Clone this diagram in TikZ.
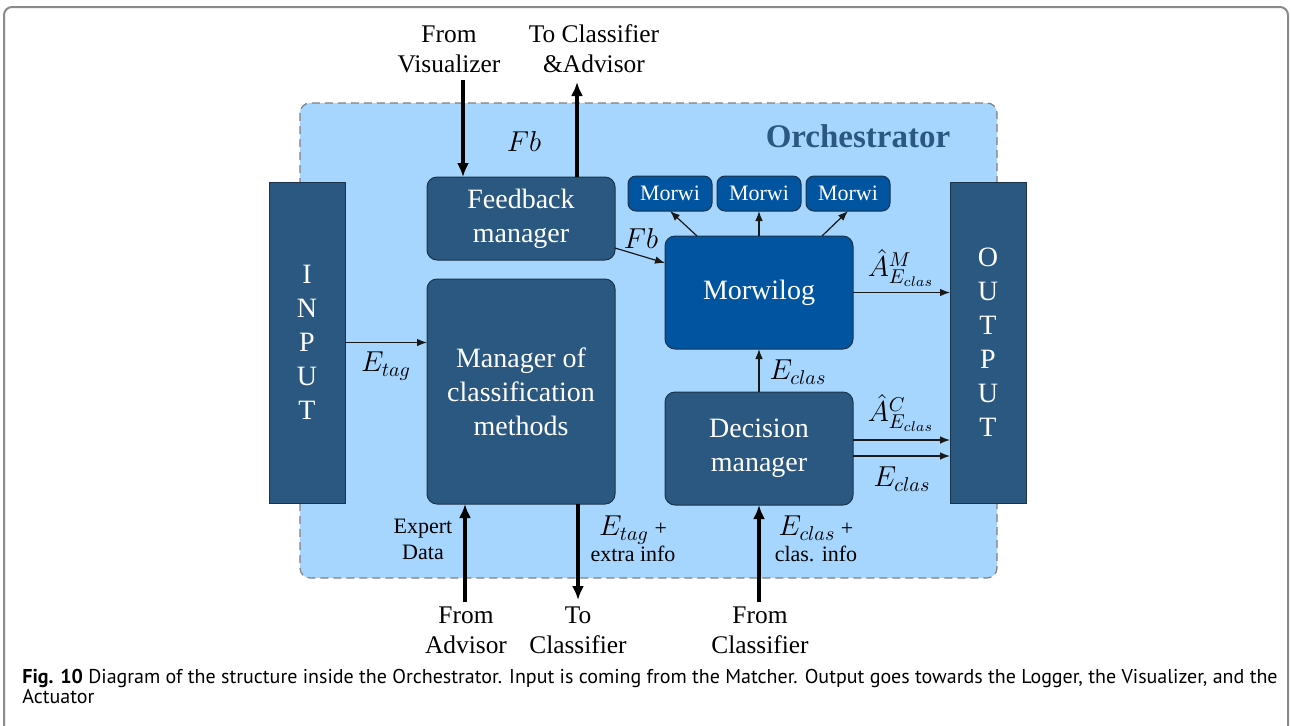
\documentclass[tikz,border=0pt]{standalone}
\usepackage{fontspec}
\setmainfont{Liberation Serif}
\newfontfamily\capfont{PT Sans}
\usetikzlibrary{arrows.meta,calc}
\definecolor{boxblue}{HTML}{2B5880}
\definecolor{morblue}{HTML}{0054A0}
\definecolor{bgblue}{HTML}{A6D5FD}
\definecolor{boxedge}{HTML}{1C3349}
\definecolor{framegray}{HTML}{8A8A8A}
\newcommand{\bigmath}[1]{{\fontsize{14}{13}\selectfont$#1$}}
\begin{document}
\begin{tikzpicture}[x=0.5pt,y=-0.5pt,
  box/.style={draw=boxedge, fill=boxblue, text=white, rounded corners=5pt, line width=0.5pt,
    align=center, font=\fontsize{14}{17}\selectfont, inner sep=0pt, outer sep=0pt},
  iobox/.style={draw=boxedge, fill=boxblue, text=white, line width=0.5pt, align=center,
    font=\fontsize{14}{17}\selectfont, inner sep=0pt, outer sep=0pt,
    minimum width=38pt, minimum height=160.5pt},
  morwi/.style={box, fill=morblue, rounded corners=4pt, minimum width=42pt, minimum height=17.5pt,
    font=\fontsize{11}{13}\selectfont},
  lbl/.style={align=center, font=\fontsize{12.7}{15}\selectfont, inner sep=0pt},
  slbl/.style={align=center, font=\fontsize{11}{13}\selectfont, inner sep=0pt},
  mlbl/.style={font=\fontsize{14}{15}\selectfont, inner sep=0pt},
  thinarrow/.style={-{Latex[length=5pt,width=3.8pt]}, line width=0.6pt, draw=black!90},
  bigarrow/.style={-{Latex[length=7pt,width=6pt]}, line width=2pt, draw=black}]
\useasboundingbox (0,0) rectangle (1291,725);
% outer frame
\draw[framegray, line width=1pt, rounded corners=4pt] (4,740) -- (4,7) -- (1288,7) -- (1288,740);
% orchestrator background
\draw[fill=bgblue, draw=black!50, dash pattern=on 4pt off 2.5pt, line width=0.6pt, rounded corners=5pt]
  (300,103) rectangle (997,578);
\node[font=\fontsize{16.5}{19}\selectfont\bfseries, text=boxblue, inner sep=0pt] (orch) at (858,136) {Orchestrator};
% boxes
\node[iobox] (inp) at (307,342.5) {I\\N\\P\\U\\T};
\node[iobox] (out) at (988,342.5) {O\\U\\T\\P\\U\\T};
\node[box, minimum width=94pt, minimum height=41.5pt] (fb) at (521,218.5) {Feedback\\manager};
\node[box, minimum width=94pt, minimum height=112.5pt] (mgr) at (521,391.5) {Manager of\\classification\\methods};
\node[box, fill=morblue, minimum width=94pt, minimum height=56.5pt] (mw) at (759,292.5) {Morwilog};
\node[box, minimum width=94pt, minimum height=56.5pt] (dec) at (759,448.5) {Decision\\manager};
\node[morwi] (m1) at (670,193.5) {Morwi};
\node[morwi] (m2) at (759,193.5) {Morwi};
\node[morwi] (m3) at (848,193.5) {Morwi};
% helper points
\coordinate (fbout) at ($(fb.south east)+(0,-12)$);
\coordinate (mwin) at ($(mw.north west)+(0,27)$);
\coordinate (mwl) at ($(mw.north)+(-62,0)$);
\coordinate (mwr) at ($(mw.north)+(63,0)$);
\coordinate (dec1) at ($(dec.east)+(0,-8.5)$);
\coordinate (dec2) at ($(dec.east)+(0,7.5)$);
% thin connectors
\draw[thinarrow] (inp.east) -- (inp.east -| mgr.west);
\draw[thinarrow] (fbout) -- (mwin);
\draw[thinarrow] (mwl) -- (m1.south);
\draw[thinarrow] (mw.north) -- (m2.south);
\draw[thinarrow] (mwr) -- (m3.south);
\draw[thinarrow] (mw.east) -- (mw.east -| out.west);
\draw[thinarrow] (dec1) -- (dec1 -| out.west);
\draw[thinarrow] (dec2) -- (dec2 -| out.west);
\draw[thinarrow] (dec.north) -- (mw.south);
% thick connectors
\coordinate (fromvis) at (463,80);
\coordinate (tocla) at (577,82);
\coordinate (fromadv) at (465,602);
\coordinate (tocls) at (578,600);
\coordinate (fromcls) at (759,602);
\draw[bigarrow] (fromvis) -- (fromvis |- fb.north);
\draw[bigarrow] (tocla |- fb.north) -- (tocla);
\draw[bigarrow] (fromadv) -- (fromadv |- mgr.south);
\draw[bigarrow] (tocls |- mgr.south) -- (tocls);
\draw[bigarrow] (fromcls) -- (dec.south);
% labels
\node[lbl] (lfromvis) at (449,49) {From\\Visualizer};
\node[lbl] (ltocla) at (594,49) {To Classifier\\\&Advisor};
\node[lbl] (lfromadv) at (466,630) {From\\Advisor};
\node[lbl] (ltocls) at (578,630) {To\\Classifier};
\node[lbl] (lfromcls) at (760,630) {From\\Classifier};
\node[slbl] (lexp) at (423,539) {Expert\\Data};
\node[slbl] (lextra) at (633,539) {\bigmath{E_{tag}} +\\extra info};
\node[slbl] (lclas) at (816,539) {\bigmath{E_{clas}} +\\clas. info};
\node[mlbl] (lfb1) at (524,141) {$Fb$};
\node[mlbl] (lfb2) at (641,238) {$Fb$};
\node[mlbl] (letag) at (386,366) {$E_{tag}$};
\node[mlbl] (lam) at (901,268) {$\hat{A}^{M}_{E_{clas}}$};
\node[mlbl] (lac) at (901,413) {$\hat{A}^{C}_{E_{clas}}$};
\node[mlbl] (lec1) at (902,479) {$E_{clas}$};
\node[mlbl] (lec2) at (798,372) {$E_{clas}$};
% caption
\node[anchor=base west, inner sep=0pt, font=\capfont\fontsize{10}{10}\selectfont] (cap1) at (22,683)
  {\textbf{Fig. 10} Diagram of the structure inside the Orchestrator. Input is coming from the Matcher. Output goes towards the Logger, the Visualizer, and the};
\node[anchor=base west, inner sep=0pt, font=\capfont\fontsize{10}{10}\selectfont] (cap2) at (22,703) {Actuator};
\end{tikzpicture}
\end{document}
